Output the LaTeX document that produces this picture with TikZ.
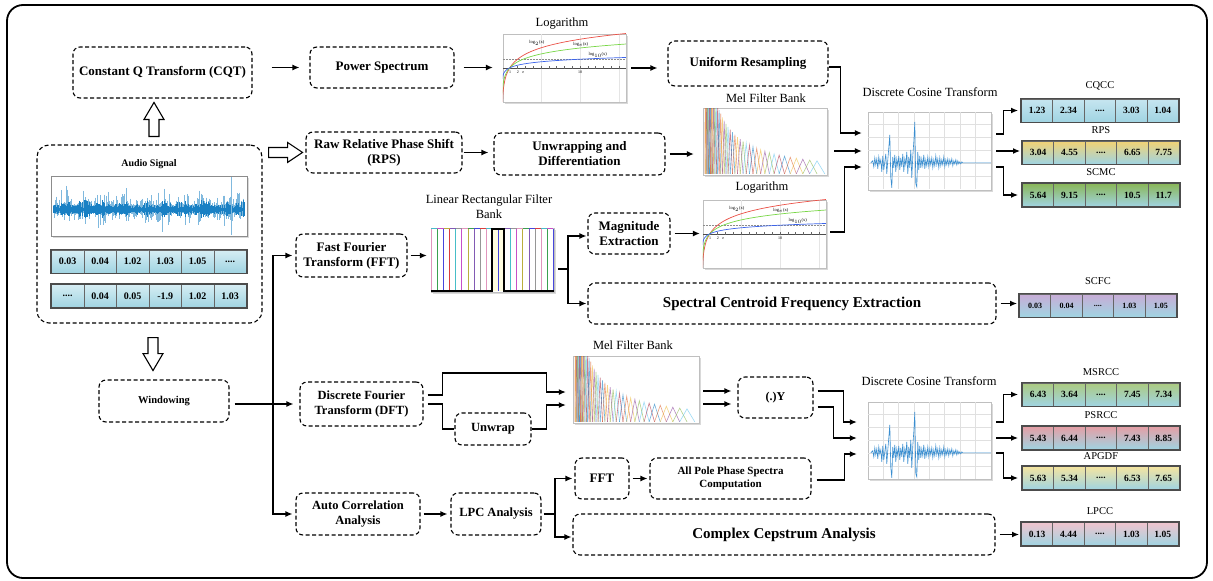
\documentclass[tikz,border=0pt]{standalone}
\usepackage{fontspec}
\setmainfont{Liberation Serif}
\usetikzlibrary{arrows.meta,calc,shadows}
\definecolor{cellblue}{RGB}{160,212,226}
\definecolor{sigtop}{RGB}{214,237,243}
\definecolor{cqcctop}{RGB}{198,229,240}
\definecolor{rpsyellow}{RGB}{242,210,115}
\definecolor{scmcgreen}{RGB}{138,182,88}
\definecolor{scfcviolet}{RGB}{200,172,214}
\definecolor{msrccgreen}{RGB}{172,202,128}
\definecolor{psrccpink}{RGB}{228,158,165}
\definecolor{apgdfyellow}{RGB}{244,228,160}
\definecolor{lpccpink}{RGB}{240,196,206}
\definecolor{wavecol}{RGB}{0,114,189}
\definecolor{dctcol}{RGB}{58,142,208}
\definecolor{logred}{RGB}{235,80,70}
\definecolor{loggreen}{RGB}{120,215,70}
\definecolor{logblue}{RGB}{60,100,235}
\definecolor{mc0}{RGB}{0,114,189}
\definecolor{mc1}{RGB}{217,83,25}
\definecolor{mc2}{RGB}{237,177,32}
\definecolor{mc3}{RGB}{126,47,142}
\definecolor{mc4}{RGB}{119,172,48}
\definecolor{mc5}{RGB}{77,190,238}
\definecolor{mc6}{RGB}{162,20,47}
\definecolor{lc0}{RGB}{225,150,190}
\definecolor{lc1}{RGB}{60,160,80}
\definecolor{lc2}{RGB}{70,70,220}
\definecolor{lc3}{RGB}{220,60,60}
\definecolor{lc4}{RGB}{70,190,200}
\definecolor{lc5}{RGB}{200,80,200}
\definecolor{lc6}{RGB}{185,175,60}
\definecolor{lc7}{RGB}{130,90,180}
\definecolor{lc8}{RGB}{150,150,150}

\tikzset{
  stage/.style={draw, dash pattern=on 4pt off 2.5pt, line width=1.1pt, rounded corners=7pt,
    align=center, inner sep=2pt, font=\bfseries\fontsize{13}{15}\selectfont},
  arr/.style={-{Latex[length=7pt,width=6pt]}, line width=1.2pt},
  ln/.style={line width=1.2pt},
  plotframe/.style={draw=black!25, fill=white, inner sep=0pt,
    drop shadow={opacity=0.3, shadow xshift=1.5pt, shadow yshift=-1.5pt}},
  plottitle/.style={font=\fontsize{12.5}{15}\selectfont},
  rowlabel/.style={font=\fontsize{10.5}{12}\selectfont},
  cell/.style={draw=black!60, line width=0.9pt, minimum height=23pt, inner sep=0pt,
    bottom color=cellblue, font=\bfseries\fontsize{9.5}{11}\selectfont},
  hollowarrow/.style={draw, line width=1.1pt, fill=white, line join=miter},
}

\newcommand{\fdots}{....}

\newcommand{\featrow}[6][31.4]{%
  \foreach \v [count=\i] in {#6} {
    \node[cell, minimum width=#1pt, #5, anchor=west] (#2-\i) at ({#3+(\i-1)*#1}, #4) {\v};
    \xdef\lastcell{\i}
  }
  \draw[black!70, line width=1.3pt] (#2-1.north west) rectangle (#2-\lastcell.south east);
}

\newcommand{\logplot}[1]{%
  \begin{scope}[shift={(#1.north west)}]
    \clip (0,0) rectangle (123,68);
    \foreach \g in {38.2,77.2,116.2} \draw[black!10, line width=0.4pt] (\g,0) -- (\g,68);
    \draw[black!45, densely dotted, line width=0.5pt] (0,25.4) -- (123,25.4);
    \draw[black!70, line width=0.5pt] (0,34) -- (123,34);
    \foreach \u in {1,...,15} \draw[black!60, line width=0.3pt] ({7.8*\u-0.8},32.6) -- ({7.8*\u-0.8},35.4);
    \draw[logred, line width=0.7pt] plot[domain=-4.1:4, samples=70, variable=\t] ({7.8*exp(0.6931*\t)-0.8}, {34-8.6*\t});
    \draw[loggreen, line width=0.7pt] plot[domain=-4:2.77, samples=70, variable=\t] ({7.8*exp(\t)-0.8}, {34-8.6*\t});
    \draw[logblue, line width=0.7pt] plot[domain=-4:1.21, samples=70, variable=\t] ({7.8*exp(2.3026*\t)-0.8}, {34-8.6*\t});
    \node[font=\fontsize{4.5}{5}\selectfont] at (34,9) {log$_2$(x)};
    \node[font=\fontsize{4.5}{5}\selectfont] at (78,11) {log$_e$(x)};
    \node[font=\fontsize{4.5}{5}\selectfont] at (95,21) {log$_{10}$(x)};
    \node[font=\fontsize{4}{4}\selectfont] at (7.2,38.5) {1};
    \node[font=\fontsize{4}{4}\selectfont] at (15,38.5) {2};
    \node[font=\fontsize{4}{4}\selectfont] at (20.4,38.5) {e};
    \node[font=\fontsize{4}{4}\selectfont] at (77.2,38.5) {10};
  \end{scope}}

\newcommand{\melplot}[1]{%
  \begin{scope}[shift={(#1.north west)}]
    \clip (0.5,0.5) rectangle (123.5,66.5);
    \foreach \j in {1,...,40} {
      \pgfmathsetmacro\pa{2+120*(10^(1.0944*(\j-1)/41)-1)/11.43}
      \pgfmathsetmacro\pb{2+120*(10^(1.0944*\j/41)-1)/11.43}
      \pgfmathsetmacro\pc{2+120*(10^(1.0944*(\j+1)/41)-1)/11.43}
      \pgfmathsetmacro\ph{66-195/(\pc-\pa)}
      \pgfmathtruncatemacro\cj{mod(\j,7)}
      \draw[mc\cj, line width=0.6pt, opacity=0.55] (\pa,66) -- (\pb,\ph) -- (\pc,66);
    }
  \end{scope}}

\newcommand{\dctplot}[1]{%
  \begin{scope}[shift={(#1.north west)}]
    \foreach \k in {1,...,7} \draw[black!12, line width=0.5pt] ({\k*123/8},0) -- ({\k*123/8},77);
    \foreach \k in {1,...,5} \draw[black!12, line width=0.5pt] (0,{\k*77/6}) -- (123,{\k*77/6});
    \draw[dctcol, line width=0.6pt] plot coordinates {(3,51)(5,49)(6,55)(7,46)(8,53)(9,47)(10,57)(11,45)(12,52)(13,48)(14,60)(15,44)(16,58)(17,50)(18,42)(19,62)(20,48)(21,36)(22,23)(23,66)(24,76)(25,45)(26,56)(27,43)(28,60)(29,47)(30,54)(31,44)(32,58)(33,46)(34,55)(35,42)(36,60)(37,47)(38,53)(39,40)(40,62)(41,45)(42,56)(43,38)(44,66)(45,44)(46,30)(47,10)(48,72)(49,75)(50,40)(51,58)(52,44)(53,56)(54,47)(55,54)(56,43)(57,57)(58,48)(59,54)(60,45)(61,55)(62,47)(63,53)(64,46)(65,56)(66,48)(67,54)(68,44)(69,53)(70,47)(71,56)(72,46)(73,54)(74,48)(75,53)(76,45)(77,55)(78,48)(79,53)(80,47)(81,54)(82,48)(83,52)(84,47)(85,54)(86,49)(87,52)(88,48)(89,53)(90,49)(91,52)(92,50)(93,52)(94,50)(95,51)(123,51)};
  \end{scope}}

\newcommand{\waveplot}[1]{%
  \begin{scope}[shift={(#1.north west)}]
    \pgfmathsetseed{42}
    \foreach \i in {0,...,191} {
      \pgfmathsetmacro\env{0.3+0.7*abs(sin(\i*9))}
      \pgfmathsetmacro\up{4+26*\env*rnd*rnd}
      \pgfmathsetmacro\dn{3+20*\env*rnd*rnd}
      \pgfmathsetmacro\cu{2+8*\env*rnd}
      \draw[wavecol!50, line width=0.7pt] ({2.5+\i},{34-\up}) -- ({2.5+\i},{34+\dn});
      \draw[wavecol!90, line width=0.7pt] ({2.5+\i},{34-\cu}) -- ({2.5+\i},{34+0.8*\cu});
    }
    \draw[wavecol!50, line width=0.5pt] (180,1) -- (180,59);
  \end{scope}}

\newcommand{\linbankplot}[1]{%
  \begin{scope}[shift={(#1.north west)}]
    \fill[yellow!12] (61,1) rectangle (73,63);
    \foreach \k in {0,...,20} {
      \pgfmathtruncatemacro\cj{mod(\k,9)}
      \draw[lc\cj, line width=0.8pt] ({0.5+\k*6.1},1) -- ({0.5+\k*6.1},63);
    }
    \foreach \k in {0,...,19} {
      \pgfmathtruncatemacro\cj{mod(\k+4,9)}
      \draw[lc\cj, line width=1.3pt] ({0.5+\k*6.1},1) -- ({0.5+(\k+1)*6.1},1);
    }
    \draw[black, line width=1.5pt] (0,63) -- (61,63) -- (61,1) -- (73,1) -- (73,63) -- (123,63);
  \end{scope}}

\begin{document}
\begin{tikzpicture}[x=1pt,y=-1pt]
\useasboundingbox (0,0) rectangle (1213,581);
\draw[line width=1.8pt, rounded corners=16pt] (7,5) rectangle (1207,578);

% CQT branch
\node[stage, minimum width=179pt, minimum height=51pt] (cqt) at (162.5,72.5) {Constant Q Transform (CQT)};
\node[stage, minimum width=144pt, minimum height=41pt] (power) at (382,67.5) {Power Spectrum};
\node[plotframe, minimum width=123pt, minimum height=68pt] (log1) at (564.5,68) {};
\node[plottitle] (log1title) at (562,24) {Logarithm};
\node[stage, minimum width=160pt, minimum height=45pt] (uniform) at (748,63.5) {Uniform Resampling};

% RPS branch
\node[stage, minimum width=156pt, minimum height=41pt] (rps) at (384,152.5) {Raw Relative Phase Shift\\(RPS)};
\node[stage, minimum width=171pt, minimum height=42pt] (unwrapdiff) at (579.5,154) {Unwrapping and\\Differentiation};
\node[plotframe, minimum width=124pt, minimum height=67pt] (mel1) at (765,141.5) {};
\node[plottitle] (mel1title) at (766,98) {Mel Filter Bank};
\node[plotframe, minimum width=123pt, minimum height=78pt] (dct1) at (929.5,151) {};
\node[plottitle] (dct1title) at (930,92) {Discrete Cosine Transform};

% audio signal
\node[stage, rounded corners=12pt, minimum width=225pt, minimum height=178pt] (audio) at (149.5,234) {};
\node[font=\bfseries\fontsize{10}{12}\selectfont] (audiotitle) at (149,164) {Audio Signal};
\node[plotframe, draw=black!45, minimum width=196pt, minimum height=60pt] (wave) at (149,206) {};
\featrow[32.5]{sig1}{51}{261.5}{top color=sigtop, font=\bfseries\fontsize{10}{12}\selectfont}{0.03,0.04,1.02,1.03,1.05,\fdots}
\featrow[32.5]{sig2}{51}{296}{top color=sigtop, font=\bfseries\fontsize{10}{12}\selectfont}{\fdots,0.04,0.05,-1.9,1.02,1.03}

% FFT branch
\node[stage, minimum width=111pt, minimum height=43pt] (fft) at (351.5,255.5) {Fast Fourier\\Transform (FFT)};
\node[plotframe, minimum width=123pt, minimum height=64pt] (linbank) at (492.5,260) {};
\node[plottitle, align=center] (linbanktitle) at (489,206.5) {Linear Rectangular Filter\\Bank};
\node[stage, minimum width=82pt, minimum height=41pt] (mag) at (629,233.5) {Magnitude\\Extraction};
\node[plotframe, minimum width=123pt, minimum height=68pt] (log2) at (764.5,234) {};
\node[plottitle] (log2title) at (762,188) {Logarithm};
\node[stage, font=\bfseries\fontsize{15}{17}\selectfont, minimum width=408pt, minimum height=41pt] (scfe) at (792,303.5) {Spectral Centroid Frequency Extraction};

% DFT branch
\node[stage, font=\bfseries\fontsize{10.5}{12}\selectfont, minimum width=130pt, minimum height=42pt] (windowing) at (164,401) {Windowing};
\node[stage, font=\bfseries\fontsize{12.5}{15}\selectfont, minimum width=123pt, minimum height=44pt] (dft) at (361.5,404) {Discrete Fourier\\Transform (DFT)};
\node[stage, font=\bfseries\fontsize{12.5}{15}\selectfont, minimum width=76pt, minimum height=32pt] (unwrap) at (493,429) {Unwrap};
\node[plotframe, minimum width=126pt, minimum height=67pt] (mel2) at (636,389.5) {};
\node[plottitle] (mel2title) at (633,345) {Mel Filter Bank};
\node[stage, font=\bfseries\fontsize{12}{14}\selectfont, minimum width=75pt, minimum height=41pt] (powY) at (775.5,397.5) {(.)Y};
\node[plotframe, minimum width=123pt, minimum height=77pt] (dct2) at (929.5,440.5) {};
\node[plottitle] (dct2title) at (929,381) {Discrete Cosine Transform};

% LPC branch
\node[stage, font=\bfseries\fontsize{12.5}{15}\selectfont, minimum width=124pt, minimum height=42pt] (autocorr) at (358,514) {Auto Correlation\\Analysis};
\node[stage, font=\bfseries\fontsize{12.5}{15}\selectfont, minimum width=90pt, minimum height=42pt] (lpc) at (496,514) {LPC Analysis};
\node[stage, minimum width=54pt, minimum height=41pt] (fft2) at (602,478.5) {FFT};
\node[stage, font=\bfseries\fontsize{11}{13}\selectfont, minimum width=161pt, minimum height=41pt] (allpole) at (730.5,478.5) {All Pole Phase Spectra\\Computation};
\node[stage, font=\bfseries\fontsize{15}{17}\selectfont, minimum width=422pt, minimum height=41pt] (cepstrum) at (784,534.5) {Complex Cepstrum Analysis};

% feature vectors
\featrow{cqcc}{1021}{110.5}{top color=cqcctop}{1.23,2.34,\fdots,3.03,1.04}
\featrow{rpsv}{1022}{152.5}{top color=rpsyellow}{3.04,4.55,\fdots,6.65,7.75}
\featrow{scmc}{1022}{195}{top color=scmcgreen}{5.64,9.15,\fdots,10.5,11.7}
\featrow{scfc}{1019}{305.5}{top color=scfcviolet, font=\bfseries\fontsize{8}{9}\selectfont}{0.03,0.04,\fdots,1.03,1.05}
\featrow{msrcc}{1022}{394.5}{top color=msrccgreen}{6.43,3.64,\fdots,7.45,7.34}
\featrow{psrcc}{1022}{438}{top color=psrccpink}{5.43,6.44,\fdots,7.43,8.85}
\featrow{apgdf}{1022}{478}{top color=apgdfyellow}{5.63,5.34,\fdots,6.53,7.65}
\featrow{lpcc}{1021}{534}{top color=lpccpink}{0.13,4.44,\fdots,1.03,1.05}
\node[rowlabel] (cqcclab) at ([yshift=13pt]cqcc-3.north) {CQCC};
\node[rowlabel] (rpslab) at ([yshift=10.5pt]rpsv-3.north) {RPS};
\node[rowlabel] (scmclab) at ([yshift=10.5pt]scmc-3.north) {SCMC};
\node[rowlabel] (scfclab) at ([yshift=12pt]scfc-3.north) {SCFC};
\node[rowlabel] (msrcclab) at ([yshift=10.5pt]msrcc-3.north) {MSRCC};
\node[rowlabel] (psrcclab) at ([yshift=10.5pt]psrcc-3.north) {PSRCC};
\node[rowlabel] (apgdflab) at ([yshift=10pt]apgdf-3.north) {APGDF};
\node[rowlabel] (lpcclab) at ([yshift=10.5pt]lpcc-3.north) {LPCC};

% plots
\logplot{log1}
\logplot{log2}
\melplot{mel1}
\melplot{mel2}
\dctplot{dct1}
\dctplot{dct2}
\waveplot{wave}
\linbankplot{linbank}

% hollow arrows out of the audio signal
\draw[hollowarrow] ($(audio.north)+(-0.5,-8)$) -- ++(0,-17) -- ++(-5,0) -- ++(10,-17) -- ++(10,17) -- ++(-5,0) -- ++(0,17) -- cycle;
\draw[hollowarrow] ($(audio.north east)+(6,3)$) -- ++(19,0) -- ++(0,-5) -- ++(15,10) -- ++(-15,10) -- ++(0,-5) -- ++(-19,0) -- cycle;
\draw[hollowarrow] ($(audio.south)+(-1.5,14)$) -- ++(10,0) -- ++(0,16) -- ++(5,0) -- ++(-10,17) -- ++(-10,-17) -- ++(5,0) -- cycle;

% connectors
\draw[arr, shorten <=19pt, shorten >=10pt] (cqt.east |- power.west) -- (power.west);
\draw[arr, shorten <=9pt, shorten >=10pt] (power.east) -- (power.east -| log1.west);
\draw[arr, shorten <=5pt, shorten >=10pt] (log1.east) -- (log1.east -| uniform.west);
\draw[arr, shorten >=6pt] ([yshift=-3.5pt]uniform.east) -- ++(12,0) |- ([yshift=18pt]dct1.west);
\draw[arr, shorten <=1pt, shorten >=5pt] (rps.east) -- (rps.east -| unwrapdiff.west);
\draw[arr, shorten <=4pt, shorten >=9pt] (unwrapdiff.east) -- (unwrapdiff.east -| mel1.west);
\draw[arr, shorten <=7pt, shorten >=6pt] (mel1.east |- dct1.west) -- (dct1.west);
\draw[arr, shorten >=6pt] ([xshift=4pt,yshift=2pt]log2.east) -- ++(14,0) |- ([yshift=-16pt]dct1.west);
\draw[arr, shorten >=3pt] ([xshift=5pt,yshift=17pt]dct1.east) -- ++(7,0) |- (cqcc-1.west);
\draw[arr, shorten >=2pt] ([xshift=5pt]dct1.east) -- (dct1.east -| rpsv-1.west);
\draw[arr, shorten >=4pt] ([xshift=5pt,yshift=-16pt]dct1.east) -- ++(7,0) |- (scmc-1.west);

\coordinate (wsplit) at (273,404);
\draw[arr, shorten <=5pt, shorten >=6pt] (windowing.east |- dft.west) -- (dft.west);
\draw[arr, shorten >=3pt] (wsplit) |- (fft.west);
\draw[arr, shorten >=3pt] (wsplit) |- (autocorr.west);

\draw[arr, shorten <=3pt, shorten >=4pt] (fft.east) -- (fft.east -| linbank.west);
\coordinate (lsplit) at (568,269);
\draw[ln, shorten <=4pt] (linbank.east |- lsplit) -- (lsplit);
\draw[arr, shorten >=1pt] (lsplit) |- ([yshift=-2.5pt]mag.west);
\draw[arr, shorten >=1pt] (lsplit) |- (scfe.west);
\draw[arr, shorten <=4pt, shorten >=3pt] (mag.east) -- (mag.east -| log2.west);
\draw[arr, shorten <=4pt, shorten >=2pt] (scfe.east) -- (scfe.east -| scfc-1.west);

\draw[arr, shorten >=7pt] ([xshift=4pt,yshift=9pt]dft.east) -- ++(15,0) -- ++(0,-22) -- ++(104,0) |- ([yshift=-2.5pt]mel2.west);
\draw[ln] ([xshift=4pt]dft.east) -- ++(15,0) |- (unwrap.west);
\draw[arr, shorten >=7pt] (unwrap.east) -- ++(15,0) |- ([yshift=-15.5pt]mel2.west);
\coordinate (m2a) at ([yshift=-1.5pt]mel2.east);
\coordinate (m2b) at ([yshift=-14.5pt]mel2.east);
\draw[arr, shorten <=4pt, shorten >=6pt] (m2a) -- (m2a -| powY.west);
\draw[arr, shorten <=4pt, shorten >=6pt] (m2b) -- (m2b -| powY.west);
\draw[arr, shorten >=11pt] ([xshift=4pt,yshift=6.5pt]powY.east) -- ++(26,0) |- ([yshift=18.5pt]dct2.west);
\draw[arr, shorten >=11pt] ([xshift=4pt,yshift=-9.5pt]powY.east) -- ++(16,0) |- ([yshift=2.5pt]dct2.west);
\draw[arr, shorten >=11pt] ([xshift=5pt,yshift=-1.5pt]allpole.east) -- ++(28,0) |- ([yshift=-13.5pt]dct2.west);
\draw[arr, shorten >=4pt] ([xshift=5pt,yshift=18.5pt]dct2.east) -- ++(7,0) |- (msrcc-1.west);
\draw[arr, shorten >=4pt] ([xshift=5pt,yshift=2.5pt]dct2.east) -- (psrcc-1.west);
\draw[arr, shorten >=4pt] ([xshift=5pt,yshift=-12.5pt]dct2.east) -- ++(7,0) |- (apgdf-1.west);

\draw[arr, shorten <=3pt, shorten >=3pt] (autocorr.east) -- (lpc.west);
\coordinate (psplit) at (555,514);
\draw[ln, shorten <=2pt] (lpc.east) -- (psplit);
\draw[arr, shorten >=2pt] (psplit) |- (fft2.west);
\draw[arr, shorten >=1pt] (psplit) |- ([yshift=-2.5pt]cepstrum.west);
\draw[arr, shorten <=3pt, shorten >=2pt] (fft2.east) -- (allpole.west);
\draw[arr, shorten <=4pt, shorten >=2pt] (cepstrum.east) -- (cepstrum.east -| lpcc-1.west);
\end{tikzpicture}
\end{document}
